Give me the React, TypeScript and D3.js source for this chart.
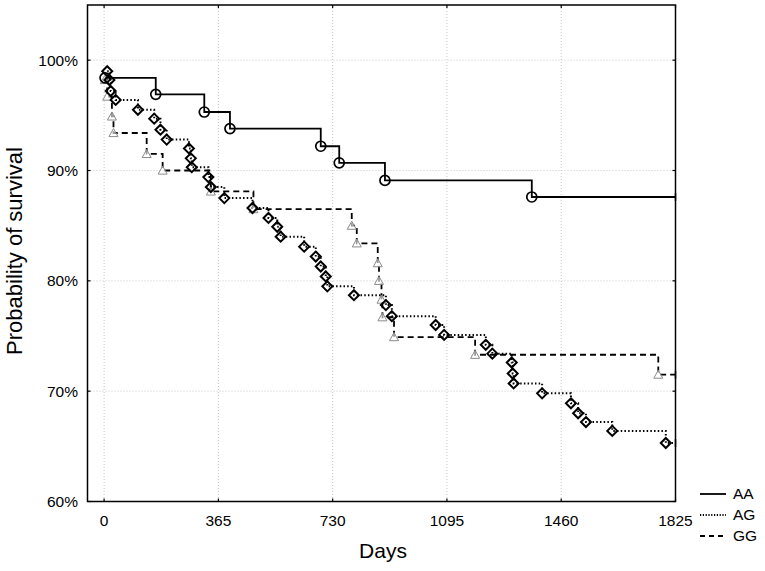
import React from "react";
import * as d3 from "d3";

const xTicks = [0, 365, 730, 1095, 1460, 1825];
const yTicks = [60, 70, 80, 90, 100];

const aaDays = [3, 165, 320, 402, 692, 751, 897, 1366];
const aaSurv = [98.4, 96.9, 95.3, 93.8, 92.2, 90.7, 89.1, 87.6];

const agDays = [10, 17, 21, 37, 108, 160, 180, 200, 271, 277, 280, 333, 341, 384, 474, 525, 553, 564, 639, 676, 692, 708, 713, 798, 900, 919, 1059, 1086, 1219, 1240, 1302, 1305, 1308, 1399, 1491, 1514, 1539, 1623, 1794];
const agSurv = [99.0, 98.2, 97.2, 96.4, 95.5, 94.7, 93.7, 92.8, 92.0, 91.1, 90.3, 89.4, 88.5, 87.5, 86.6, 85.7, 84.9, 84.0, 83.1, 82.2, 81.3, 80.4, 79.5, 78.7, 77.8, 76.8, 76.0, 75.1, 74.2, 73.4, 72.6, 71.6, 70.7, 69.8, 68.9, 68.0, 67.2, 66.4, 65.3];

const ggDays = [2, 10, 25, 30, 136, 187, 341, 477, 791, 807, 874, 878, 886, 889, 926, 1185, 1770];
const ggSurv = [98.2, 96.7, 94.9, 93.4, 91.5, 90.0, 88.1, 86.5, 85.0, 83.4, 81.6, 80.0, 78.3, 76.7, 74.9, 73.3, 71.5];

const endDay = 1825;
const groups = ["AA", "AG", "GG"];

const W = 765, H = 571;
const L = 87.5, R = 675.5, T = 5, B = 501.5;

export default function App() {
  const x = d3.scaleLinear().domain([-53, 1825]).range([L, R]);
  const y = d3.scaleLinear().domain([60, 105]).range([B, T]);
  const font = "Arial, 'Liberation Sans', sans-serif";

  const mk = (days: number[], surv: number[]) => {
    const pts: [number, number][] = days.map((d, i) => [d, surv[i]]);
    pts.push([endDay, surv[surv.length - 1]]);
    return pts;
  };
  const line = d3
    .line<[number, number]>()
    .x((d) => x(d[0]))
    .y((d) => y(d[1]))
    .curve(d3.curveStepAfter);

  const series = [
    { name: "AA", pts: mk(aaDays, aaSurv), days: aaDays, surv: aaSurv, dash: "none", w: 1.8 },
    { name: "AG", pts: mk(agDays, agSurv), days: agDays, surv: agSurv, dash: "1.5,2.2", w: 2 },
    { name: "GG", pts: mk(ggDays, ggSurv), days: ggDays, surv: ggSurv, dash: "6,4", w: 1.8 },
  ];
  const order = [2, 1, 0];

  const diamond = (cx: number, cy: number, s: number) =>
    `M${cx},${cy - s}L${cx + s},${cy}L${cx},${cy + s}L${cx - s},${cy}Z`;
  const tri = (cx: number, cy: number, s: number) =>
    `M${cx},${cy - s}L${cx + s},${cy + s * 0.8}L${cx - s},${cy + s * 0.8}Z`;

  return (
    <svg width={W} height={H} style={{ position: "absolute", left: 0, top: 0, background: "#fff" }} fontFamily={font}>
      <rect x={0} y={0} width={W} height={H} fill="#fff" />
      {/* grid */}
      {xTicks.map((t) => (
        <line key={"gx" + t} x1={x(t)} x2={x(t)} y1={T} y2={B} stroke="#c8c8c8" strokeWidth={1} strokeDasharray="1,2" />
      ))}
      {yTicks.map((t) => (
        <line key={"gy" + t} x1={L} x2={R} y1={y(t)} y2={y(t)} stroke="#c8c8c8" strokeWidth={1} strokeDasharray="1,2" />
      ))}
      {/* lines */}
      {order.map((i) => {
        const s = series[i];
        return (
          <path key={s.name} d={line(s.pts) || ""} fill="none" stroke="#000" strokeWidth={s.w}
            strokeDasharray={s.dash === "none" ? undefined : s.dash} />
        );
      })}
      {/* markers */}
      {ggDays.map((d, i) => (
        <path key={"gm" + i} d={tri(x(d), y(ggSurv[i]), 4.5)} fill="#fff" fillOpacity={0.6} stroke="#8a8a8a" strokeWidth={1} />
      ))}
      {agDays.map((d, i) => (
        <path key={"am" + i} d={diamond(x(d), y(agSurv[i]), 5)} fill="none" stroke="#000" strokeWidth={2} />
      ))}
      {aaDays.map((d, i) => (
        <circle key={"cm" + i} cx={x(d)} cy={y(aaSurv[i])} r={5} fill="none" stroke="#000" strokeWidth={1.7} />
      ))}
      {/* censor marks */}
      {series.map((s) => (
        <line key={"c" + s.name} x1={x(endDay)} x2={x(endDay)} y1={y(s.surv[s.surv.length - 1]) - 4} y2={y(s.surv[s.surv.length - 1]) + 4} stroke="#000" strokeWidth={1.5} />
      ))}
      {/* frame */}
      <rect x={L} y={T} width={R - L} height={B - T} fill="none" stroke="#000" strokeWidth={1.5} />
      {/* inner ticks */}
      {xTicks.map((t) => (
        <g key={"tx" + t}>
          <line x1={x(t)} x2={x(t)} y1={B} y2={B - 3} stroke="#000" strokeWidth={1.2} />
          <line x1={x(t)} x2={x(t)} y1={T} y2={T + 3} stroke="#000" strokeWidth={1.2} />
        </g>
      ))}
      {yTicks.map((t) => (
        <g key={"ty" + t}>
          <line x1={L} x2={L + 3} y1={y(t)} y2={y(t)} stroke="#000" strokeWidth={1.2} />
          <line x1={R} x2={R - 3} y1={y(t)} y2={y(t)} stroke="#000" strokeWidth={1.2} />
        </g>
      ))}
      {/* tick labels */}
      {xTicks.map((t) => (
        <text key={"lx" + t} x={x(t)} y={526} textAnchor="middle" fontSize={15.5} fill="#000">{t}</text>
      ))}
      {yTicks.map((t) => (
        <text key={"ly" + t} x={78} y={y(t)} dy="0.35em" textAnchor="end" fontSize={15.5} fill="#000">{t + "%"}</text>
      ))}
      {/* axis titles */}
      <text x={383} y={558} textAnchor="middle" fontSize={21} fill="#000">Days</text>
      <text transform={`translate(22,${251}) rotate(-90)`} textAnchor="middle" fontSize={22} fill="#000">Probability of survival</text>
      {/* legend */}
      {groups.map((g, i) => {
        const s = series[i];
        const ly = 494 + i * 21;
        return (
          <g key={"lg" + g}>
            <line x1={700} x2={726} y1={ly} y2={ly} stroke="#000" strokeWidth={s.w}
              strokeDasharray={s.dash === "none" ? undefined : s.dash === "6,4" ? "5,4" : "1.2,1.6"} />
            <text x={733} y={ly} dy="0.35em" fontSize={15.5} fill="#000">{g}</text>
          </g>
        );
      })}
    </svg>
  );
}
